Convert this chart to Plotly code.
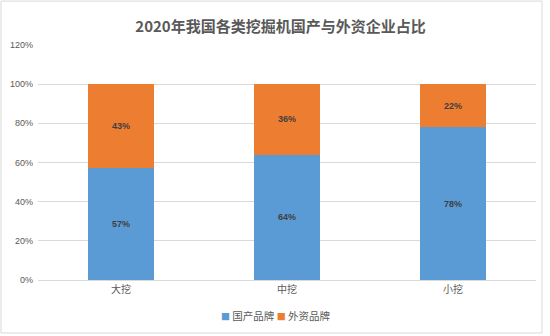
import plotly.graph_objects as go

categories = ["大挖", "中挖", "小挖"]
domestic = [0.57, 0.64, 0.78]
foreign = [0.43, 0.36, 0.22]
series_names = ["国产品牌", "外资品牌"]
series_colors = ["#5B9BD5", "#ED7D31"]
tick_vals = [0, 0.2, 0.4, 0.6, 0.8, 1.0, 1.2]
tick_text = ["0%", "20%", "40%", "60%", "80%", "100%", "120%"]

LABEL_FONT = dict(family="'Liberation Sans', 'Noto Sans CJK SC', sans-serif", size=9, color="#404040")

fig = go.Figure()
for vals, name, color in zip([domestic, foreign], series_names, series_colors):
    fig.add_trace(go.Bar(
        x=categories, y=vals, name=name,
        marker=dict(color=color, line=dict(width=0)),
        text=[f"<b>{round(v*100)}%</b>" for v in vals],
        textposition="inside", insidetextanchor="middle",
        textfont=LABEL_FONT,
    ))

legend_html = " ".join(
    f"<span style='color:{c};font-size:9px'>■</span> {n}"
    for n, c in zip(series_names, series_colors)
)
fig.add_annotation(
    text=legend_html, xref="paper", yref="paper",
    x=0.477, xanchor="center", y=-0.153, yanchor="middle", showarrow=False,
    font=dict(family="'Noto Sans CJK SC', sans-serif", size=10.5, color="#595959"),
)

fig.update_layout(
    barmode="stack",
    bargap=0.6,
    width=550, height=336,
    margin=dict(l=38, r=14, t=45, b=56, autoexpand=False),
    paper_bgcolor="white", plot_bgcolor="white",
    title=dict(
        text="<b>2020年我国各类挖掘机国产与外资企业占比</b>",
        x=0.51, xanchor="center", y=0.92, yanchor="middle",
        font=dict(family="'Noto Sans CJK SC', sans-serif", size=15, color="#595959"),
    ),
    showlegend=False,
    uniformtext=dict(mode="show", minsize=8),
)
fig.update_yaxes(
    range=[0, 1.2], tickvals=tick_vals, ticktext=tick_text,
    showgrid=True, gridcolor="#D9D9D9", gridwidth=1,
    zeroline=False, showline=False, ticks="",
    tickfont=dict(family="'Liberation Sans', sans-serif", size=9, color="#595959"),
    ticklabelstandoff=4,
)
fig.update_xaxes(
    showline=True, linecolor="#D9D9D9", linewidth=1, ticks="",
    tickfont=dict(family="'Noto Sans CJK SC', sans-serif", size=10, color="#595959"),
)
fig.add_shape(
    type="rect", xref="paper", yref="paper",
    x0=-0.0743, x1=1.012, y0=-0.2255, y1=1.187,
    line=dict(color="#D9D9D9", width=1), fillcolor="rgba(0,0,0,0)", layer="below",
)

fig.write_html("out.html")
